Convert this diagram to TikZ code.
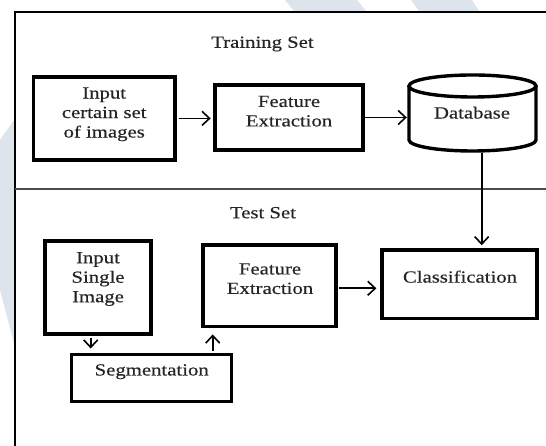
\documentclass[tikz,border=0pt]{standalone}
\usepackage{fontspec}
\setmainfont{Liberation Serif}[FakeStretch=1.22,FakeBold=0.4]
\usetikzlibrary{arrows.meta}
\definecolor{txt}{HTML}{262626}
\definecolor{wm}{HTML}{DEE4EB}
\begin{document}
\begin{tikzpicture}[x=1bp,y=1bp,
  box/.style={draw=black, line width=3.6bp, inner sep=0pt},
  lbl/.style={text=txt, font=\fontsize{17bp}{19.5bp}\selectfont, align=center, inner sep=0pt},
  conn/.style={line width=1.6bp, -{Straight Barb[length=7.5bp,width=14bp,line width=1.6bp]}},
  frameline/.style={line width=2.2bp, black},
  sepline/.style={line width=1.6bp, black!70}]
\useasboundingbox (0,0) rectangle (546,446);
\fill[white] (0,0) rectangle (546,446);
% faint watermark shapes outside the frame
\fill[wm] (0,306) -- (14,326) -- (14,103) -- (0,156) -- cycle;
\fill[wm] (285,446) -- (357,446) -- (366,435) -- (294,435) -- cycle;
\fill[wm] (411,446) -- (472,446) -- (479,435) -- (419,435) -- cycle;
% frame and separator
\draw[frameline] (546,434) -- (15,434) -- (15,0);
\draw[sepline] (15,257) -- (546,257);
% training set
\node[lbl] (train) at (262.5,402) {Training Set};
\node[box, minimum width=141.7bp, minimum height=83.3bp] (in1) at (104.2,327.6) {};
\node[lbl] (in1t) at (104.2,331.7) {Input\\certain set\\of images};
\node[box, minimum width=148bp, minimum height=65bp] (fe1) at (289,328.5) {};
\node[lbl] (fe1t) at (289,334.8) {Feature\\Extraction};
\node[inner sep=0pt, minimum width=127bp, minimum height=76bp] (db) at (472.5,333) {};
\draw[line width=3.4bp] (472.5,360) ellipse [x radius=63.5, y radius=11];
\draw[line width=3.4bp] (409,360) -- (409,306) arc[start angle=180, end angle=360, x radius=63.5, y radius=11] -- (536,360);
\node[lbl] (dbt) at (472,333.3) {Database};
% test set
\node[lbl] (test) at (263,233.3) {Test Set};
\node[box, minimum width=106bp, minimum height=93.3bp] (in2) at (98,158.6) {};
\node[lbl] (in2t) at (98,167) {Input\\Single\\Image};
\node[box, minimum width=133bp, minimum height=81.7bp] (fe2) at (269.2,160.2) {};
\node[lbl] (fe2t) at (270,167.3) {Feature\\Extraction};
\node[box, minimum width=155bp, minimum height=68.3bp] (cl) at (459.2,161.8) {};
\node[lbl] (clt) at (460,169.3) {Classification};
\node[box, line width=3bp, minimum width=160bp, minimum height=47.7bp] (seg) at (151.7,68.1) {};
\node[lbl] (segt) at (151.7,74.3) {Segmentation};
% connectors
\draw[conn, shorten <=1.8bp, shorten >=2.5bp] (in1.east) -- (in1.east -| fe1.west);
\draw[conn, shorten <=-1.8bp, shorten >=2bp] (fe1.east) -- (fe1.east -| db.west);
\draw[conn, shorten <=1.7bp, shorten >=3bp] ([xshift=9.2bp]db.south) -- ([xshift=9.2bp]db.south |- cl.north);
\draw[conn, shorten <=1.8bp, shorten >=3.5bp] ([yshift=-2.5bp]fe2.east) -- ([yshift=-2.5bp]fe2.east -| cl.west);
\draw[conn, shorten <=1.8bp, shorten >=4bp] (in2.south -| 90.7,0) -- (seg.north -| 90.7,0);
\draw[conn, shorten <=1.5bp, shorten >=6bp] (seg.north -| 212.7,0) -- (fe2.south -| 212.7,0);
\end{tikzpicture}
\end{document}
